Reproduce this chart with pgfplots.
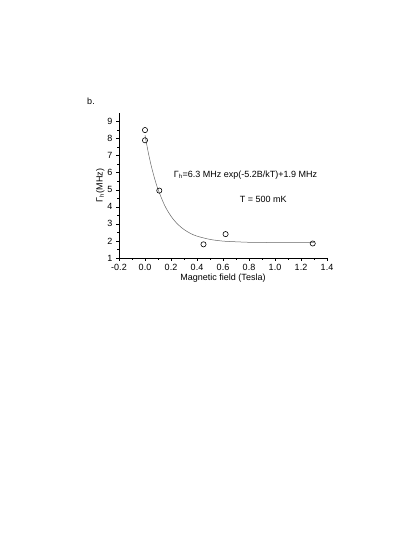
\documentclass[border=0pt]{standalone}
\usepackage{pgfplots}
\pgfplotsset{compat=1.18}
\usepackage{fontspec}
\setmainfont{Liberation Sans}
\begin{document}
\begin{tikzpicture}[x=1pt,y=1pt]
\path[use as bounding box] (0,0) rectangle (415,537);
\begin{axis}[
  at={(119pt,279pt)}, anchor=south west,
  scale only axis, width=208pt, height=145pt,
  xmin=-0.2, xmax=1.4, ymin=1, ymax=9.5,
  axis x line*=bottom, axis y line*=left,
  axis line style={-, line width=0.6pt},
  xtick={-0.2,0,0.2,0.4,0.6,0.8,1.0,1.2,1.4},
  ytick={1,2,3,4,5,6,7,8,9},
  minor x tick num=1, minor y tick num=1,
  tick align=outside,
  major tick length=3pt, minor tick length=1.8pt,
  tick style={black, line width=0.5pt},
  xticklabel style={/pgf/number format/.cd, fixed, fixed zerofill, precision=1},
  /pgf/number format/assume math mode=true,
  ticklabel style={font=\fontsize{9}{10}\selectfont},
  label style={font=\fontsize{9}{10}\selectfont},
  xlabel={Magnetic field (Tesla)},
  ylabel={Γ\textsubscript{h}(MHz)},
  xlabel style={at={(axis description cs:0.5,-0.14)}, anchor=center},
  ylabel style={at={(axis description cs:-0.09,0.5)}, anchor=center},
  clip=false,
]
\addplot[gray!80!black, line width=0.5pt, smooth] coordinates {
(0,8.2) (0.025,7.19) (0.05,6.34) (0.075,5.63) (0.1,5.03) (0.15,4.10)
(0.2,3.45) (0.25,2.99) (0.3,2.67) (0.35,2.44) (0.4,2.28) (0.5,2.09)
(0.6,1.99) (0.7,1.95) (0.8,1.92) (0.9,1.91) (1.0,1.906) (1.1,1.903)
(1.2,1.90) (1.3,1.90)
};
\addplot[only marks, mark=o, mark size=2.6pt, mark options={black, line width=0.6pt, fill=white}] coordinates {
(0,8.5) (0,7.9) (0.11,4.95) (0.45,1.8) (0.62,2.4) (1.29,1.85)
};
\node[anchor=west, font=\fontsize{9}{10}\selectfont, inner sep=0pt] at (axis cs:0.22,5.85) {Γ\textsubscript{h}=6.3 MHz exp(-5.2B/kT)+1.9 MHz};
\node[font=\fontsize{9}{10}\selectfont, inner sep=0pt] at (axis cs:0.91,4.42) {T = 500 mK};
\end{axis}
\node[font=\fontsize{9}{10}\selectfont] at (91,436) {b.};
\end{tikzpicture}
\end{document}
